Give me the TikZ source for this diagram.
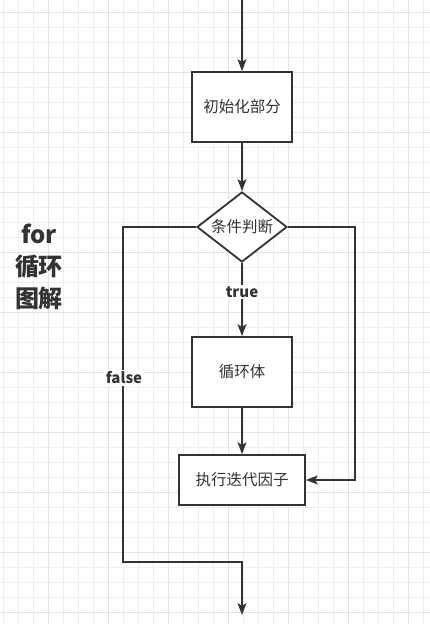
\documentclass[tikz,border=0pt]{standalone}
\usepackage{fontspec}
\newfontfamily\cjk{Noto Sans CJK SC}
\usetikzlibrary{arrows.meta,shapes.geometric}
\definecolor{ink}{HTML}{333333}
\definecolor{gridminor}{HTML}{EFEFEF}
\definecolor{gridmajor}{HTML}{E3E3E3}
\tikzset{
  box/.style={draw=ink, line width=1.8pt, fill=white, text=ink, font=\cjk\fontsize{15.5}{18}\selectfont, inner sep=0pt},
  cond/.style={diamond, draw=ink, line width=1.8pt, fill=white, text=ink, font=\cjk\fontsize{15.5}{18}\selectfont, inner sep=0pt, aspect=1.3, minimum width=90pt, minimum height=70pt},
  conn/.style={draw=ink, line width=1.6pt},
  arr/.style={conn, -{Stealth[length=12pt,width=9pt,inset=3pt]}},
  lbl/.style={fill=white, text=ink, font=\cjk\bfseries\fontsize{15}{18}\selectfont, inner sep=1.5pt},
  titletext/.style={text=ink, font=\cjk\bfseries\fontsize{24}{32}\selectfont, align=center, inner sep=0pt}
}
\begin{document}
\begin{tikzpicture}[x=1pt,y=-1pt]
\fill[white] (0,0) rectangle (430,624);
\useasboundingbox (0,0) rectangle (430,624);
% grid
\foreach \i in {0,...,28} {
  \draw[gridminor, line width=1pt] ({3.5+15*\i},0) -- ({3.5+15*\i},624);
}
\foreach \j in {0,...,41} {
  \draw[gridminor, line width=1pt] (0,{12.3+15*\j}) -- (430,{12.3+15*\j});
}
\foreach \i in {0,...,6} {
  \draw[gridmajor, line width=1pt] ({48.5+60*\i},0) -- ({48.5+60*\i},624);
}
\foreach \j in {0,...,10} {
  \draw[gridmajor, line width=1pt] (0,{12.3+60*\j}) -- (430,{12.3+60*\j});
}
% title
\node[titletext] (title) at (39,267) {for\\循环\\图解};
% nodes
\coordinate (start) at (242,0);
\node[box, minimum width=100pt, minimum height=70pt] (init) at (242,107) {初始化部分};
\node[cond] (check) at (242,227) {条件判断};
\node[box, minimum width=100pt, minimum height=70pt] (body) at (242,372) {循环体};
\node[box, minimum width=126pt, minimum height=50pt] (iter) at (242,480) {执行迭代因子};
\coordinate (rturn) at (355,480);
\coordinate (fturn) at (123,562);
\coordinate (exit) at (242,615);
% connectors
\draw[arr] (start) -- (init);
\draw[arr] (init) -- (check);
\draw[arr] (check) -- node[lbl, pos=0.4] (tlbl) {true} (body);
\draw[arr] (body) -- (iter);
\draw[arr] (check.east) -| (rturn) -- (iter.east);
\draw[arr] (check.west) -| (fturn) -| (exit);
\node[lbl] (flbl) at (124,378) {false};
\end{tikzpicture}
\end{document}
